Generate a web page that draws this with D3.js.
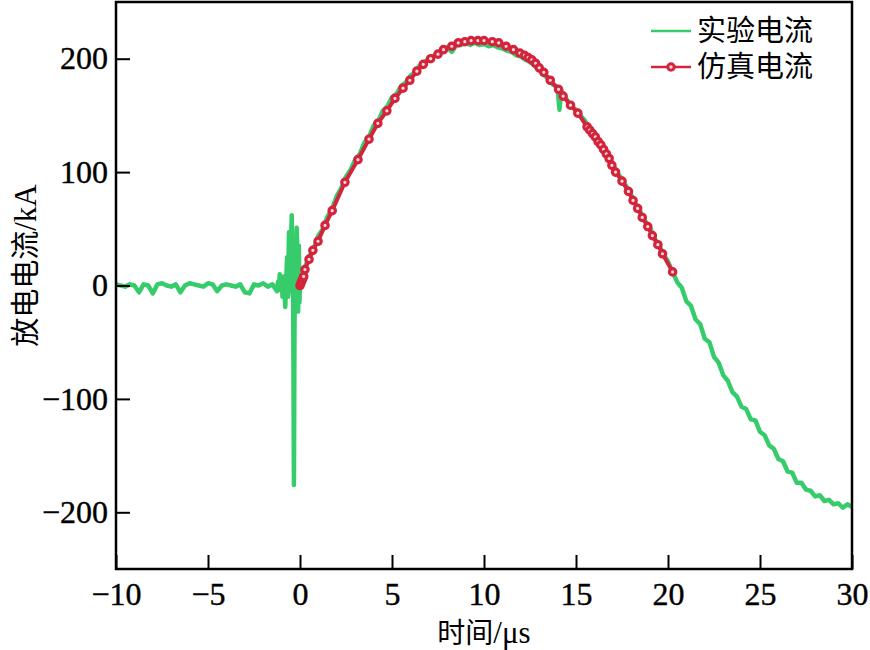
<!DOCTYPE html>
<html>
<head>
<meta charset="utf-8">
<script src="https://cdn.jsdelivr.net/npm/d3@7"></script>
<style>
  html, body { margin: 0; padding: 0; background: #fff; }
  svg { display: block; }
  .tick text { font-family: "Liberation Serif", "Times New Roman", serif; font-size: 32px; fill: #000; stroke: #000; stroke-width: 0.4px; }
</style>
</head>
<body>
<div id="chart"></div>
<script>
// ---------------- data ----------------
// experimental current (green), time in µs, current in kA
const expPreT = d3.range(36).map(i => -10 + i * 0.25);
const expPreI = [1,0,-1,1,0,-6,1,0,-7,1,2,0,-1,1,-6,0,2,1,0,-1,2,1,-5,0,1,0,-1,1,-6,-7,1,0,2,-1,1,-5];

const expSpikeT = [-1.2,-1.15,-1.1,-1.05,-1.0,-0.95,-0.9,-0.85,-0.8,-0.75,-0.7,-0.65,-0.6,-0.55,-0.5,-0.45,-0.4,-0.37,-0.33,-0.3,-0.27,-0.22,-0.18,-0.14,-0.1,-0.06,-0.03];
const expSpikeI = [3,-4,10,-2,6,-10,8,-3,-19,5,25,-10,47,-5,30,62,10,-20,-176,-40,20,-10,51,30,-23,35,-15];

const expMainT = [0,0.25,0.5,0.75,1,1.25,1.5,1.75,2,2.25,2.5,2.75,3,3.25,3.5,3.75,4,4.25,4.5,4.75,5,5.25,5.5,5.75,6,6.25,6.5,6.75,7,7.25,7.5,7.75,8,8.25,8.5,8.75,9,9.25,9.5,9.75,10,10.25,10.5,10.75,11,11.25,11.5,11.75,12,12.25,12.5,12.75,13,13.25,13.5,13.75,14,14.1,14.2,14.5,14.75,15,15.25,15.5,15.75,16,16.25,16.5,16.75,17,17.25,17.5,17.75,18,18.25,18.5,18.75,19,19.25,19.5,19.75,20,20.25,20.5,20.75,21,21.25,21.5,21.75,22,22.25,22.5,22.75,23,23.25,23.5,23.75,24,24.25,24.5,24.75,25,25.25,25.5,25.75,26,26.25,26.5,26.75,27,27.25,27.5,27.75,28,28.25,28.5,28.75,29,29.25,29.5,29.75,30];
const expMainI = [5,15,26,33,44,50,61,68,79,86,96,102,111,116,126,131,141,145,154,158,166,169,176,179,185,188,194,196,201,202,206,206,210,206,212,212,214,212,214,212,213,211,212,210,209,207,206,203,202,199,197,194,190,186,182,177,175,155,172,164,158,155,150,145,138,134,127,122,115,107,99,94,87,80,72,65,57,52,42,36,28,21,12,3,-2,-14,-18,-30,-34,-47,-50,-63,-68,-79,-84,-94,-98,-107,-109,-118,-119,-129,-132,-141,-144,-153,-155,-164,-165,-174,-174,-180,-181,-186,-185,-190,-189,-193,-192,-196,-193,-195];

// simulated current (red, with markers)
const simT = [0,0.05,0.1,0.15,0.2,0.27,0.49,0.7,0.98,1.36,1.75,2.44,3.15,3.75,4.23,4.72,5.16,5.6,5.97,6.35,6.7,7.1,7.5,7.8,8.25,8.6,8.96,9.3,9.67,10.0,10.45,10.8,11.2,11.6,11.95,12.2,12.4,12.6,12.8,13.0,13.25,13.6,14.05,14.3,14.7,15.1,15.6,15.75,15.9,16.05,16.2,16.35,16.5,16.65,16.8,16.95,17.15,17.5,17.85,18.1,18.35,18.6,18.9,19.15,19.45,19.7,20.25];
const simI = [0,2,4,6,8,14,23,31,39,53,66,91,111,129,143,154,165,174,181,189,195,200,204,208,211,214,215,216,216,216,215,214,211,208,205,203,201,199,196,192,188,181,173,167,159,152,140,137,134,131,127,124,120,116,112,106,100,92,83,75,68,60,52,44,36,28,12];

const xTicks = [-10,-5,0,5,10,15,20,25,30];
const yTicks = [-200,-100,0,100,200];
const seriesNames = ["实验电流", "仿真电流"];

// ---------------- chart ----------------
const W = 870, H = 650;
const m = { left: 116, right: 18, top: 2, bottom: 81 };
const iw = W - m.left - m.right, ih = H - m.top - m.bottom;
const green = "#36cc6c", red = "#d3243c";

const svg = d3.select("#chart").append("svg").attr("width", W).attr("height", H);
const g = svg.append("g").attr("transform", `translate(${m.left},${m.top})`);

const x = d3.scaleLinear().domain([-10, 30]).range([0, iw]);
const y = d3.scaleLinear().domain([-250, 250]).range([ih, 0]);

g.append("defs").append("clipPath").attr("id", "clip")
  .append("rect").attr("width", iw).attr("height", ih);

const expT = expPreT.concat(expSpikeT, expMainT);
const expI = expPreI.concat(expSpikeI, expMainI);
const expData = expT.map((t, i) => [t, expI[i]]);
const simData = simT.map((t, i) => [t, simI[i]]);

const line = d3.line().x(d => x(d[0])).y(d => y(d[1]));

const plot = g.append("g").attr("clip-path", "url(#clip)");
plot.append("path").datum(expData).attr("d", line)
  .attr("fill", "none").attr("stroke", green).attr("stroke-width", 4.5)
  .attr("stroke-linejoin", "round").attr("stroke-linecap", "round");
plot.append("path").datum(simData).attr("d", line)
  .attr("fill", "none").attr("stroke", red).attr("stroke-width", 4)
  .attr("stroke-linejoin", "round");
plot.selectAll("circle.sim").data(simData).enter().append("circle")
  .attr("class", "sim")
  .attr("cx", d => x(d[0])).attr("cy", d => y(d[1])).attr("r", 3.2)
  .attr("fill", "#f9dbe1").attr("stroke", red).attr("stroke-width", 3.2);

// axes
const xAxis = d3.axisBottom(x).tickValues(xTicks).tickSize(-14).tickSizeOuter(0).tickPadding(13);
const yAxis = d3.axisLeft(y).tickValues(yTicks).tickSize(-14).tickSizeOuter(0).tickPadding(8);
const gx = g.append("g").attr("transform", `translate(0,${ih})`).call(xAxis);
const gy = g.append("g").call(yAxis);
[gx, gy].forEach(a => {
  a.select(".domain").remove();
  a.selectAll(".tick line").attr("stroke", "#000").attr("stroke-width", 2);
});

// frame
g.append("rect").attr("width", iw).attr("height", ih)
  .attr("fill", "none").attr("stroke", "#000").attr("stroke-width", 2.5);

// axis titles
const cjk = '"Noto Sans CJK SC", "Noto Sans", sans-serif';
const xt = svg.append("text").attr("x", m.left + iw / 2).attr("y", 643)
  .attr("text-anchor", "middle").attr("font-size", 28).attr("font-family", cjk);
xt.append("tspan").text("时间");
xt.append("tspan").attr("font-family", '"Liberation Serif", serif').attr("font-size", 31).text("/μs");

const yt = svg.append("text").attr("transform", `translate(36,${m.top + y(0) - 20}) rotate(-90)`)
  .attr("text-anchor", "middle").attr("font-size", 29).attr("font-family", cjk);
yt.append("tspan").text("放电电流");
yt.append("tspan").attr("font-family", '"Liberation Serif", serif').attr("font-size", 31).text("/kA");

// legend
const lg = svg.append("g").attr("transform", "translate(651,0)");
const rows = [{ name: seriesNames[0], color: green, marker: false }, { name: seriesNames[1], color: red, marker: true }];
rows.forEach((r, i) => {
  const yy = 31 + i * 36;
  lg.append("line").attr("x1", 0).attr("x2", 40).attr("y1", yy).attr("y2", yy)
    .attr("stroke", r.color).attr("stroke-width", 2.5);
  if (r.marker) {
    lg.append("circle").attr("cx", 20).attr("cy", yy).attr("r", 3.2)
      .attr("fill", "#f9dbe1").attr("stroke", r.color).attr("stroke-width", 3);
  }
  lg.append("text").attr("x", 46).attr("y", yy + 10).attr("font-size", 29)
    .attr("font-family", cjk).text(r.name);
});
</script>
</body>
</html>
